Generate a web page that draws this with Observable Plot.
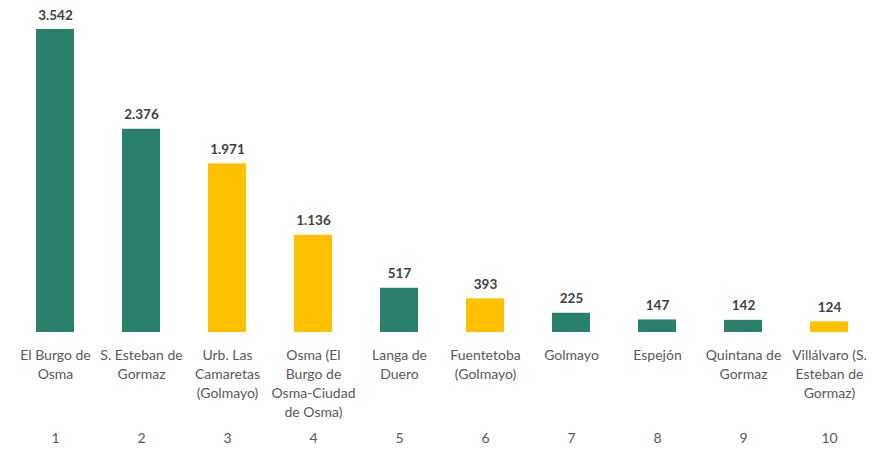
<!DOCTYPE html>
<html><head><meta charset="utf-8">
<script src="https://cdn.jsdelivr.net/npm/d3@7"></script>
<script src="https://cdn.jsdelivr.net/npm/@observablehq/plot@0.6"></script>
<style>body{margin:0;background:#fff;}</style>
</head><body><div id="chart"></div>
<script>
const ranks = [1,2,3,4,5,6,7,8,9,10];
const places = ["El Burgo de\nOsma","S. Esteban de\nGormaz","Urb. Las\nCamaretas\n(Golmayo)","Osma (El\nBurgo de\nOsma-Ciudad\nde Osma)","Langa de\nDuero","Fuentetoba\n(Golmayo)","Golmayo","Espejón","Quintana de\nGormaz","Villálvaro (S.\nEsteban de\nGormaz)"];
const values = [3542,2376,1971,1136,517,393,225,147,142,124];
const kinds = ["g","g","y","y","g","y","g","g","g","y"];

const data = ranks.map((r,i)=>({rank:r, place:places[i], value:values[i], kind:kinds[i]}));
const fmt = d3.formatLocale({decimal:",", thousands:".", grouping:[3], currency:["","€"]}).format(",");

const chart = Plot.plot({
  width: 885, height: 449,
  marginLeft: 11, marginRight: 12, marginTop: 29, marginBottom: 117,
  style: {fontFamily: "Lato, 'Open Sans', sans-serif", fontSize: "14px", background: "#fff"},
  x: {domain: ranks, paddingInner: 0.56, paddingOuter: 0.28, axis: null},
  y: {domain: [0, 3542], nice: false, axis: null},
  color: {domain: ["g","y"], range: ["#2b806b","#ffc000"]},
  marks: [
    Plot.barY(data, {x: "rank", y: "value", fill: "kind"}),
    Plot.text(data, {x: "rank", y: "value", text: d => fmt(d.value), lineAnchor: "bottom", dy: -10, fontWeight: "bold", fill: "#404040", fontSize: 13.5}),
    Plot.text(data, {x: "rank", y: 0, text: "place", lineAnchor: "top", dy: 13.5, lineHeight: 1.36, fill: "#595959", fontSize: 14}),
    Plot.text(data, {x: "rank", y: 0, text: d => String(d.rank), lineAnchor: "top", dy: 101, fill: "#595959", fontSize: 14})
  ]
});
document.getElementById("chart").appendChild(chart);
</script></body></html>
